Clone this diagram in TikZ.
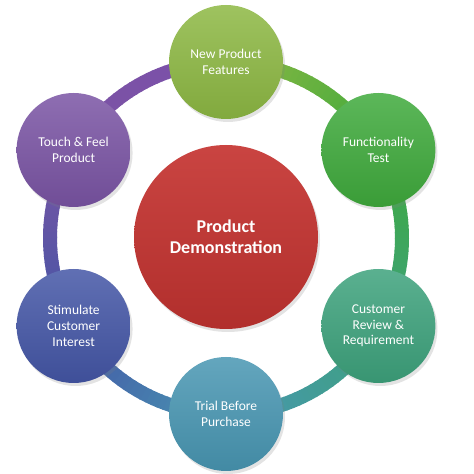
\documentclass[tikz,border=0pt]{standalone}
\usepackage{fontspec}
\setmainfont{Carlito}
\usetikzlibrary{shadows}
\definecolor{cA}{HTML}{8DB843}
\definecolor{cB}{HTML}{3FAA3C}
\definecolor{cC}{HTML}{3DA27C}
\definecolor{cD}{HTML}{4896B2}
\definecolor{cE}{HTML}{4456A6}
\definecolor{cF}{HTML}{7A54A4}
\definecolor{cG}{HTML}{7C4FAA}
\definecolor{cR}{HTML}{C53431}
\tikzset{
  bub/.style={circle, minimum size=114, inner sep=0pt, align=center, text=white,
    font=\fontsize{13.5}{15.7}\selectfont,
    top color=#1!85!white, bottom color=#1!92!black,
    drop shadow={opacity=0.22, shadow xshift=2pt, shadow yshift=-3pt}},
  hub/.style={circle, minimum size=184, inner sep=0pt, align=center, text=white,
    font=\fontsize{18}{20.7}\selectfont\bfseries,
    top color=cR!92!white, bottom color=cR!90!black,
    drop shadow={opacity=0.22, shadow xshift=2pt, shadow yshift=-3pt}}
}
\begin{document}
\begin{tikzpicture}[x=1pt,y=1pt]
\useasboundingbox (0,0) rectangle (474,474);
\fill[white] (0,0) rectangle (474,474);
\coordinate (o) at (226,236);
% ring with gradient segments
\foreach \a/\ca/\cb in {90/cA/cB, 30/cB/cC, -30/cC/cD, -90/cD/cE, -150/cE/cF, 150/cF/cG}{
  \foreach \t in {0,...,29}{
    \pgfmathsetmacro\p{100-\t*100/29}
    \pgfmathsetmacro\s{\a-\t*2}
    \draw[color=\ca!\p!\cb, line width=14]
      ([shift={(\s:176)}]o) arc[start angle=\s, end angle=\s-2.4, radius=176];
  }
}
\node[hub] (c) at (226,237) {Product\\Demonstration};
\node[bub=cA] (n1) at ([shift={(90:176)}]o) {New Product\\Features};
\node[bub=cB] (n2) at ([shift={(30:176)}]o) {Functionality\\Test};
\node[bub=cC] (n3) at ([shift={(-30:176)}]o) {Customer\\Review \&\\Requirement};
\node[bub=cD] (n4) at ([shift={(-90:176)}]o) {Trial Before\\Purchase};
\node[bub=cE] (n5) at ([shift={(-150:176)}]o) {Stimulate\\Customer\\Interest};
\node[bub=cF] (n6) at ([shift={(150:176)}]o) {Touch \& Feel\\Product};
\end{tikzpicture}
\end{document}
